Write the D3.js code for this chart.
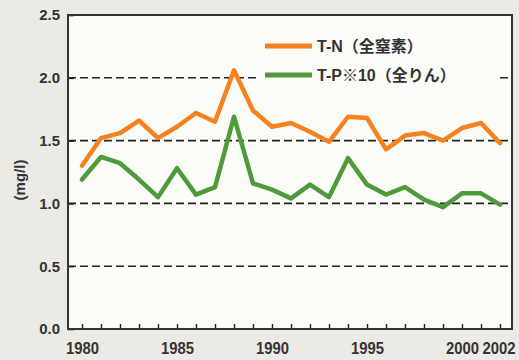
<!DOCTYPE html>
<html><head><meta charset="utf-8">
<script src="https://cdn.jsdelivr.net/npm/d3@7"></script>
<style>
html,body{margin:0;padding:0;background:#eceae4;}
svg{display:block;}
</style></head>
<body>
<svg id="c" width="519" height="360"></svg>
<script>
const years = d3.range(1980, 2003);
const tn = [1.30,1.52,1.56,1.66,1.52,1.61,1.72,1.65,2.06,1.74,1.61,1.64,1.57,1.49,1.69,1.68,1.43,1.54,1.56,1.50,1.60,1.64,1.48];
const tp10 = [1.19,1.37,1.32,1.19,1.05,1.28,1.07,1.13,1.69,1.16,1.11,1.04,1.15,1.05,1.36,1.15,1.07,1.13,1.03,0.97,1.08,1.08,0.99];
const yTicks = [0.0,0.5,1.0,1.5,2.0,2.5];
const xLabels = [1980,1985,1990,1995,2000,2002];
const seriesNames = ["T-N（全窒素）","T-P※10（全りん）"];
const colors = ["#f5821f","#4f9a3a"];

const svg = d3.select("#c");
const L=68, R=512, T=15, B=329;
const x = d3.scaleLinear().domain([1980,2002]).range([82,500]);
const y = d3.scaleLinear().domain([0,2.5]).range([B,T]);

svg.append("rect").attr("x",L).attr("y",T).attr("width",R-L).attr("height",B-T).attr("fill","#fbfbf7");

// gridlines
svg.append("g").selectAll("line").data(yTicks.filter(v=>v>0&&v<2.5)).join("line")
  .attr("x1",L).attr("x2",R).attr("y1",d=>y(d)).attr("y2",d=>y(d))
  .attr("stroke","#222").attr("stroke-width",1.6).attr("stroke-dasharray","8,4");

// legend background (covers gridline)
svg.append("rect").attr("x",257).attr("y",28).attr("width",243).attr("height",62).attr("fill","#fbfbf7");

// lines
const line = d3.line().x((d,i)=>x(years[i])).y(d=>y(d));
[tn,tp10].forEach((s,k)=>{
  svg.append("path").datum(s).attr("d",line).attr("fill","none")
    .attr("stroke",colors[k]).attr("stroke-width",4.5).attr("stroke-linejoin","round").attr("stroke-linecap","round");
});

// axes
const yAxis = d3.axisLeft(y).tickValues(yTicks).tickFormat(d3.format(".1f")).tickSizeInner(-6).tickSizeOuter(0);
const gy = svg.append("g").attr("transform",`translate(${L},0)`).call(yAxis);
gy.select(".domain").remove();
gy.selectAll("line").attr("stroke","#222").attr("stroke-width",1.6);
gy.selectAll("text").attr("x",-8).attr("fill","#333").attr("font-family","Liberation Sans, Arial, sans-serif")
  .attr("font-size",15).attr("font-weight","bold");

const xAxis = d3.axisBottom(x).tickValues(years).tickFormat(d=>xLabels.includes(d)?d:"").tickSizeInner(-5).tickSizeOuter(0);
const gx = svg.append("g").attr("transform",`translate(0,${B})`).call(xAxis);
gx.select(".domain").remove();
gx.selectAll("line").attr("stroke","#222").attr("stroke-width",1.4);
gx.selectAll("text").attr("y",13).attr("fill","#333").attr("font-family","Liberation Sans, Arial, sans-serif")
  .attr("font-size",17).attr("font-weight","bold")
  .filter(d=>xLabels.includes(d)).attr("textLength",33).attr("lengthAdjust","spacingAndGlyphs")
  .attr("dx",d=>d===2002?-1.5:0);

// frame
svg.append("rect").attr("x",L).attr("y",T).attr("width",R-L).attr("height",B-T)
  .attr("fill","none").attr("stroke","#333").attr("stroke-width",2);

// y label
svg.append("text").attr("transform","translate(25,180) rotate(-90)").attr("text-anchor","middle")
  .attr("fill","#333").attr("font-family","Liberation Sans, Arial, sans-serif").attr("font-size",15).attr("font-weight","bold")
  .text("(mg/l)");

// legend
const lg = svg.append("g");
seriesNames.forEach((n,k)=>{
  const ly = 46 + k*29;
  lg.append("rect").attr("x",265).attr("y",ly-2.5).attr("width",47).attr("height",5).attr("fill",colors[k]);
  lg.append("text").attr("x",317).attr("y",ly+6).attr("fill","#333")
    .attr("font-family","Liberation Sans, Noto Sans CJK JP, sans-serif").attr("font-size",16).attr("font-weight","bold")
    .text(n);
});
</script>
</body></html>
